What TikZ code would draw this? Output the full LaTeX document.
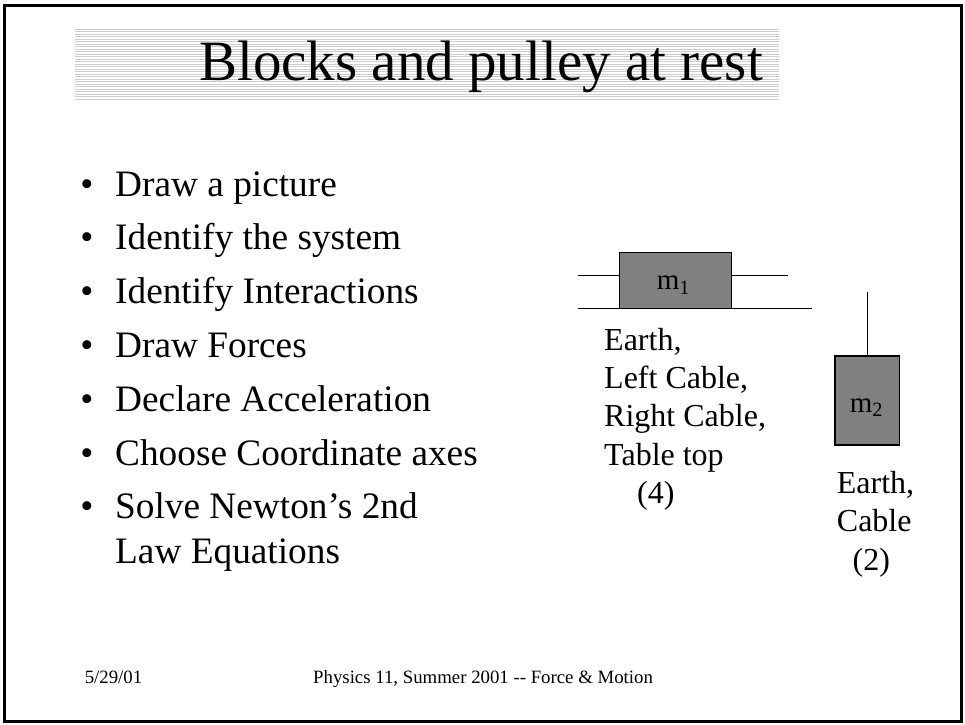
\documentclass[tikz,border=0pt]{standalone}
\usepackage{fontspec}
\setmainfont{Liberation Serif}
\begin{document}
\begin{tikzpicture}[x=1pt,y=-1pt,
  txt/.style={inner sep=0pt,anchor=base west},
  bullettxt/.style={txt,font=\fontsize{37.3}{44.6}\selectfont},
  bulletdot/.style={inner sep=0pt,anchor=base,font=\fontsize{37.3}{44.6}\selectfont},
  sidetxt/.style={txt,font=\fontsize{32}{38.4}\selectfont},
  foot/.style={txt,font=\fontsize{18.8}{22}\selectfont},
  stripe/.style={draw=black!20,line width=0.9pt},
  block/.style={draw=black,line width=1.3pt,fill=black!50,inner sep=0pt},
  rope/.style={draw=black,line width=1pt}]
\useasboundingbox (0,0) rectangle (965,724);
% frame
\draw[line width=2.7pt] (4.2,5.3) rectangle (961.3,721.3);
% title stripes
\foreach \i in {0,...,28} \draw[stripe] (75,29+\i*2.5) -- (779,29+\i*2.5);
\node[inner sep=0pt,anchor=base,font=\fontsize{57}{68}\selectfont] (title) at (481,80) {Blocks and pulley at rest};
% bullets
\foreach \n/\y/\t in {b1/196/{Draw a picture},b2/249.8/{Identify the system},b3/303.6/{Identify Interactions},b4/357.4/{Draw Forces},b5/411.2/{Declare Acceleration},b6/465/{Choose Coordinate axes},b7/518.8/{Solve Newton’s 2nd}}{
  \node[bulletdot] (\n dot) at (87,\y) {•};
  \node[bullettxt] (\n) at (115,\y) {\t};
}
\node[bullettxt] (b7b) at (115,563.4) {Law Equations};
% table and block 1
\coordinate (tl) at (578,308.3);
\coordinate (tr) at (811.7,308.3);
\draw[rope] (tl) -- (tr);
\node[block,minimum width=112.4pt,minimum height=55.6pt] (m1) at (675.5,280.5) {};
\node[inner sep=0pt,anchor=base,font=\fontsize{29}{34}\selectfont] (m1lab) at (673.5,289.3) {m\textsubscript{1}};
\coordinate (cl) at (578,275);
\coordinate (cr) at (787.7,275);
\draw[rope] (cl) -- (m1.west |- cl);
\draw[rope] (m1.east |- cr) -- (cr);
% block 2
\node[block,minimum width=64.3pt,minimum height=89pt] (m2) at (867,400.5) {};
\node[inner sep=0pt,anchor=base,font=\fontsize{29}{34}\selectfont] (m2lab) at (866.5,412) {m\textsubscript{2}};
\coordinate (top2) at (867,291.7);
\draw[rope] (top2) -- (m2.north);
% side texts
\node[sidetxt] (e1) at (604,350) {Earth,};
\node[sidetxt] (e2) at (604,388.4) {Left Cable,};
\node[sidetxt] (e3) at (604,426.8) {Right Cable,};
\node[sidetxt] (e4) at (604,465.2) {Table top};
\node[sidetxt] (e5) at (637,503.6) {(4)};
\node[sidetxt] (f1) at (836.7,493.3) {Earth,};
\node[sidetxt] (f2) at (836.7,531.7) {Cable};
\node[sidetxt] (f3) at (852.5,570.1) {(2)};
% footer
\node[foot] (date) at (84.6,683.5) {5/29/01};
\node[foot] (course) at (313,683.5) {Physics 11, Summer 2001 -{}- Force \& Motion};
\end{tikzpicture}
\end{document}
